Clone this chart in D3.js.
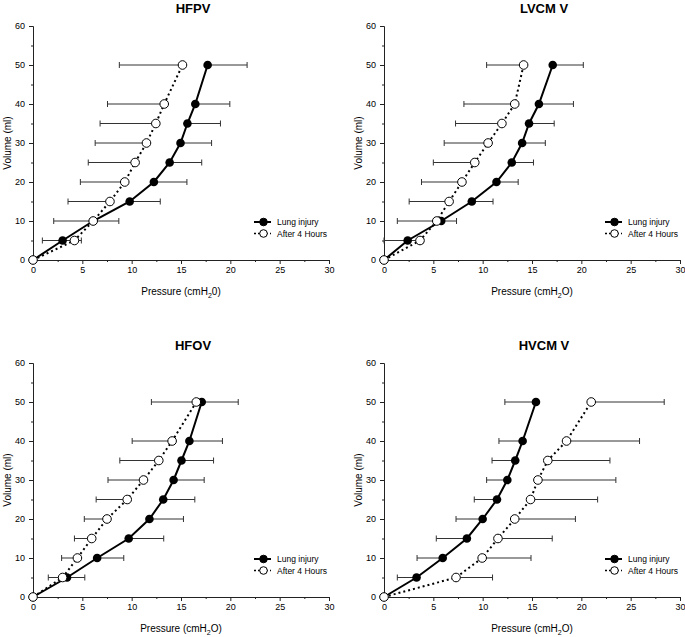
<!DOCTYPE html>
<html>
<head>
<meta charset="utf-8">
<script src="https://cdn.jsdelivr.net/npm/d3@7"></script>
<style>
  body { margin: 0; background: #fff; }
  svg { display: block; }
  text { font-family: "Liberation Sans", Arial, sans-serif; fill: #000; }
</style>
</head>
<body>
<svg id="chart" width="685" height="637"></svg>
<script>
// ---------- data ----------
const volumes = [0, 5, 10, 15, 20, 25, 30, 35, 40, 50];
const pressureTicks = [0, 5, 10, 15, 20, 25, 30];
const volumeTicks = [0, 10, 20, 30, 40, 50, 60];
const seriesNames = ["Lung injury", "After 4 Hours"];
const panelTitles = ["HFPV", "LVCM V", "HFOV", "HVCM V"];
const xLabels = ["Pressure (cmH", "Pressure (cmH", "Pressure (cmH", "Pressure (cmH"];
const xLabelTails = ["0)", "O)", "O)", "O)"];

// HFPV
const hfpvInjury    = [0, 3.0, 6.1, 9.8, 12.25, 13.85, 14.95, 15.65, 16.45, 17.7];
const hfpvInjuryEnd = [null, 4.9, 8.7, 12.9, 15.6, 17.1, 18.1, 19.0, 19.95, 21.7];
const hfpvAfter     = [0, 4.2, 6.1, 7.8, 9.3, 10.35, 11.5, 12.45, 13.3, 15.15];
const hfpvAfterEnd  = [null, 0.95, 2.1, 3.55, 4.8, 5.6, 6.3, 6.8, 7.55, 8.75];
// LVCM V
const lvcmvInjury    = [0, 2.4, 5.8, 8.9, 11.4, 12.95, 14.0, 14.7, 15.7, 17.1];
const lvcmvInjuryEnd = [null, 4.0, 7.35, 11.05, 13.6, 15.15, 16.35, 17.25, 19.2, 20.2];
const lvcmvAfter     = [0, 3.65, 5.35, 6.6, 7.9, 9.2, 10.55, 11.95, 13.25, 14.15];
const lvcmvAfterEnd  = [null, 0, 1.35, 2.55, 3.8, 5.0, 6.1, 7.25, 8.1, 10.4];
// HFOV
const hfovInjury    = [0, 3.45, 6.5, 9.7, 11.8, 13.2, 14.25, 15.05, 15.85, 17.1];
const hfovInjuryEnd = [null, 5.25, 9.2, 13.25, 15.25, 16.4, 17.35, 18.3, 19.2, 20.8];
const hfovAfter     = [0, 3.0, 4.5, 5.95, 7.5, 9.55, 11.2, 12.75, 14.1, 16.55];
const hfovAfterEnd  = [null, 1.55, 2.9, 4.2, 5.2, 6.4, 7.6, 8.8, 10.05, 12.0];
// HVCM V
const hvcmvInjury    = [0, 3.3, 5.95, 8.4, 10.0, 11.45, 12.5, 13.3, 14.05, 15.4];
const hvcmvInjuryEnd = [null, 1.35, 3.35, 5.3, 7.3, 9.15, 10.4, 10.95, 11.65, 12.25];
const hvcmvAfter     = [0, 7.3, 9.95, 11.55, 13.25, 14.85, 15.6, 16.6, 18.5, 21.0];
const hvcmvAfterEnd  = [null, 11.0, 14.9, 17.05, 19.4, 21.65, 23.5, 22.9, 25.9, 28.4];

const panels = [
  { title: panelTitles[0], injury: hfpvInjury, injuryEnd: hfpvInjuryEnd, after: hfpvAfter, afterEnd: hfpvAfterEnd },
  { title: panelTitles[1], injury: lvcmvInjury, injuryEnd: lvcmvInjuryEnd, after: lvcmvAfter, afterEnd: lvcmvAfterEnd },
  { title: panelTitles[2], injury: hfovInjury, injuryEnd: hfovInjuryEnd, after: hfovAfter, afterEnd: hfovAfterEnd },
  { title: panelTitles[3], injury: hvcmvInjury, injuryEnd: hvcmvInjuryEnd, after: hvcmvAfter, afterEnd: hvcmvAfterEnd }
];

// ---------- layout ----------
const svg = d3.select("#chart");
const origins = [[33, 26], [384, 26], [33, 363], [384, 363]];
const plotW = 296, plotH = 234;

panels.forEach((p, i) => {
  const [ox, oy] = origins[i];
  const g = svg.append("g").attr("transform", `translate(${ox},${oy})`);
  const x = d3.scaleLinear().domain([0, 30]).range([0, plotW]);
  const y = d3.scaleLinear().domain([0, 60]).range([plotH, 0]);

  // axes
  const xAxis = d3.axisBottom(x).tickValues(pressureTicks).tickSize(4).tickPadding(3);
  const xMinor = d3.axisBottom(x).tickValues(d3.range(2.5, 30, 5)).tickSize(2).tickFormat("");
  const yAxis = d3.axisLeft(y).tickValues(volumeTicks).tickSize(4).tickPadding(4);
  const yMinor = d3.axisLeft(y).tickValues(d3.range(5, 60, 10)).tickSize(2).tickFormat("");

  const gx = g.append("g").attr("transform", `translate(0,${plotH})`).call(xAxis);
  g.append("g").attr("transform", `translate(0,${plotH})`).call(xMinor).select(".domain").remove();
  const gy = g.append("g").call(yAxis);
  g.append("g").call(yMinor).select(".domain").remove();
  g.selectAll(".domain").attr("stroke", "#222").attr("stroke-width", 1);
  g.selectAll(".tick line").attr("stroke", "#222");
  g.selectAll(".tick text").attr("font-size", 9).attr("font-family", "Liberation Sans, Arial, sans-serif").attr("fill", "#111");
  gx.selectAll(".domain").attr("d", `M0.5,0V0.5H${plotW + 0.5}V0`);
  gy.selectAll(".domain").attr("d", `M0,${plotH + 0.5}H0.5V0.5H0`);

  // title
  g.append("text").attr("x", plotW / 2 + 12).attr("y", -13)
    .attr("text-anchor", "middle").attr("font-size", 13).attr("font-weight", "bold")
    .text(p.title);

  // axis labels
  const xl = g.append("text").attr("x", plotW / 2).attr("y", plotH + 35)
    .attr("text-anchor", "middle").attr("font-size", 10);
  xl.append("tspan").text(xLabels[i]);
  xl.append("tspan").attr("font-size", 7).attr("dy", 3).text("2");
  xl.append("tspan").attr("dy", -3).text(xLabelTails[i]);

  g.append("text").attr("transform", `translate(-22,${plotH / 2}) rotate(-90)`)
    .attr("text-anchor", "middle").attr("font-size", 10).text("Volume (ml)");

  // error bars
  const bars = [];
  volumes.forEach((v, k) => {
    if (p.injuryEnd[k] !== null) bars.push({ v, a: p.injury[k], b: p.injuryEnd[k] });
    if (p.afterEnd[k] !== null) bars.push({ v, a: p.after[k], b: p.afterEnd[k] });
  });
  const eb = g.append("g").attr("stroke", "#333").attr("stroke-width", 1);
  eb.selectAll("line.h").data(bars).enter().append("line")
    .attr("x1", d => x(d.a)).attr("x2", d => x(d.b))
    .attr("y1", d => y(d.v)).attr("y2", d => y(d.v));
  eb.selectAll("line.c").data(bars).enter().append("line")
    .attr("x1", d => x(d.b)).attr("x2", d => x(d.b))
    .attr("y1", d => y(d.v) - 3).attr("y2", d => y(d.v) + 3);

  // lines
  const line = d3.line().x(d => x(d[0])).y(d => y(d[1]));
  const injPts = volumes.map((v, k) => [p.injury[k], v]);
  const aftPts = volumes.map((v, k) => [p.after[k], v]);
  g.append("path").datum(aftPts).attr("d", line).attr("fill", "none")
    .attr("stroke", "#000").attr("stroke-width", 2).attr("stroke-dasharray", "2,3");
  g.append("path").datum(injPts).attr("d", line).attr("fill", "none")
    .attr("stroke", "#000").attr("stroke-width", 2);

  // markers
  g.selectAll("circle.inj").data(injPts).enter().append("circle")
    .attr("cx", d => x(d[0])).attr("cy", d => y(d[1])).attr("r", 4.3)
    .attr("fill", "#000");
  g.selectAll("circle.aft").data(aftPts).enter().append("circle")
    .attr("cx", d => x(d[0])).attr("cy", d => y(d[1])).attr("r", 4.3)
    .attr("fill", "#fff").attr("stroke", "#000").attr("stroke-width", 1);

  // legend
  const lg = g.append("g").attr("transform", `translate(${plotW - 75},${plotH - 38})`);
  seriesNames.forEach((name, j) => {
    const row = lg.append("g").attr("transform", `translate(0,${j * 11.5})`);
    row.append("line").attr("x1", 0).attr("x2", 17).attr("y1", 0).attr("y2", 0)
      .attr("stroke", "#000").attr("stroke-width", j === 0 ? 2 : 1.6)
      .attr("stroke-dasharray", j === 0 ? null : "2,2");
    row.append("circle").attr("cx", 9.5).attr("cy", 0).attr("r", 3.8)
      .attr("fill", j === 0 ? "#000" : "#fff").attr("stroke", "#000").attr("stroke-width", 1);
    row.append("text").attr("x", 23).attr("y", 3).attr("font-size", 8.5).text(name);
  });
});
</script>
</body>
</html>
